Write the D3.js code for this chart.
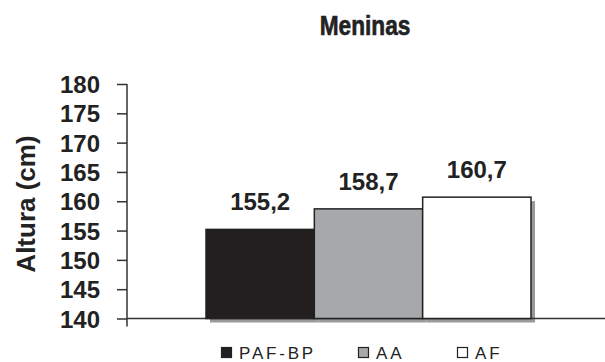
<!DOCTYPE html>
<html>
<head>
<meta charset="utf-8">
<script src="https://cdn.jsdelivr.net/npm/d3@7"></script>
<style>
  html, body { margin: 0; padding: 0; background: #fff; }
  svg { display: block; }
</style>
</head>
<body>
<svg id="chart" width="605" height="362"></svg>
<script>
// Mean height (cm) of girls by group
const categories = ["PAF-BP", "AA", "AF"];
const values = [155.2, 158.7, 160.7];
const valueLabels = ["155,2", "158,7", "160,7"];
const yTicks = [140, 145, 150, 155, 160, 165, 170, 175, 180];
const fills = ["#231f20", "#a6a8ab", "#ffffff"];

const svg = d3.select("#chart");
const font = "'Liberation Sans', Arial, sans-serif";

const y = d3.scaleLinear().domain([140, 180]).range([318.5, 84]);
const x = d3.scaleBand().domain(categories).range([206, 531]).paddingInner(0).paddingOuter(0);

// Title (condensed heavy face)
svg.append("text")
  .attr("transform", "translate(365,35) scale(0.84,1)")
  .attr("text-anchor", "middle")
  .attr("font-family", font)
  .attr("font-weight", "bold")
  .attr("font-size", 27)
  .attr("stroke", "#222")
  .attr("stroke-width", 0.6)
  .attr("fill", "#222")
  .text("Meninas");

// Bar shadows
svg.append("g").selectAll("rect")
  .data(values)
  .join("rect")
  .attr("x", (d, i) => x(categories[i]) + 4)
  .attr("y", d => y(d) + 4)
  .attr("width", x.bandwidth())
  .attr("height", d => y(140) - y(d))
  .attr("fill", "#9a9a9a");

// Baseline and y axis
const axis = d3.axisLeft(y).tickValues(yTicks).tickSize(10).tickPadding(17).tickFormat(d3.format("d"));
const gAxis = svg.append("g").attr("transform", "translate(127,0)").call(axis);
gAxis.select(".domain").remove();
gAxis.selectAll(".tick line").attr("stroke", "#333").attr("stroke-width", 1.5);
gAxis.selectAll(".tick text")
  .attr("font-family", font)
  .attr("font-weight", "bold")
  .attr("font-size", 24)
  .attr("fill", "#222")
  .attr("dy", "0.36em");

svg.append("line")
  .attr("x1", 127).attr("x2", 127)
  .attr("y1", y(180)).attr("y2", y(140) + 8)
  .attr("stroke", "#333").attr("stroke-width", 1.5);

svg.append("line")
  .attr("x1", 127).attr("x2", 605)
  .attr("y1", y(140)).attr("y2", y(140))
  .attr("stroke", "#333").attr("stroke-width", 1.5);

// Bars
svg.append("g").selectAll("rect")
  .data(values)
  .join("rect")
  .attr("x", (d, i) => x(categories[i]))
  .attr("y", d => y(d))
  .attr("width", x.bandwidth())
  .attr("height", d => y(140) - y(d))
  .attr("fill", (d, i) => fills[i])
  .attr("stroke", "#222")
  .attr("stroke-width", 1.5);

// Value labels
svg.append("g").selectAll("text")
  .data(values)
  .join("text")
  .attr("x", (d, i) => x(categories[i]) + x.bandwidth() / 2)
  .attr("y", d => y(d) - 19)
  .attr("text-anchor", "middle")
  .attr("font-family", font)
  .attr("font-weight", "bold")
  .attr("font-size", 24)
  .attr("fill", "#222")
  .text((d, i) => valueLabels[i]);

// Y axis title
svg.append("text")
  .attr("transform", "translate(35,204) rotate(-90)")
  .attr("text-anchor", "middle")
  .attr("font-family", font)
  .attr("font-weight", "bold")
  .attr("font-size", 26)
  .attr("fill", "#222")
  .text("Altura (cm)");

// Legend
const legendX = [221, 358, 457];
const leg = svg.append("g").selectAll("g")
  .data(categories)
  .join("g")
  .attr("transform", (d, i) => `translate(${legendX[i]},347)`);
leg.append("rect")
  .attr("x", 0.5).attr("y", 0.5)
  .attr("width", 10).attr("height", 10)
  .attr("fill", (d, i) => fills[i])
  .attr("stroke", "#222").attr("stroke-width", 1.2);
leg.append("text")
  .attr("x", 18).attr("y", 11.5)
  .attr("font-family", font)
  .attr("font-size", 17)
  .attr("letter-spacing", 2.8)
  .attr("fill", "#222")
  .text(d => d);
</script>
</body>
</html>
